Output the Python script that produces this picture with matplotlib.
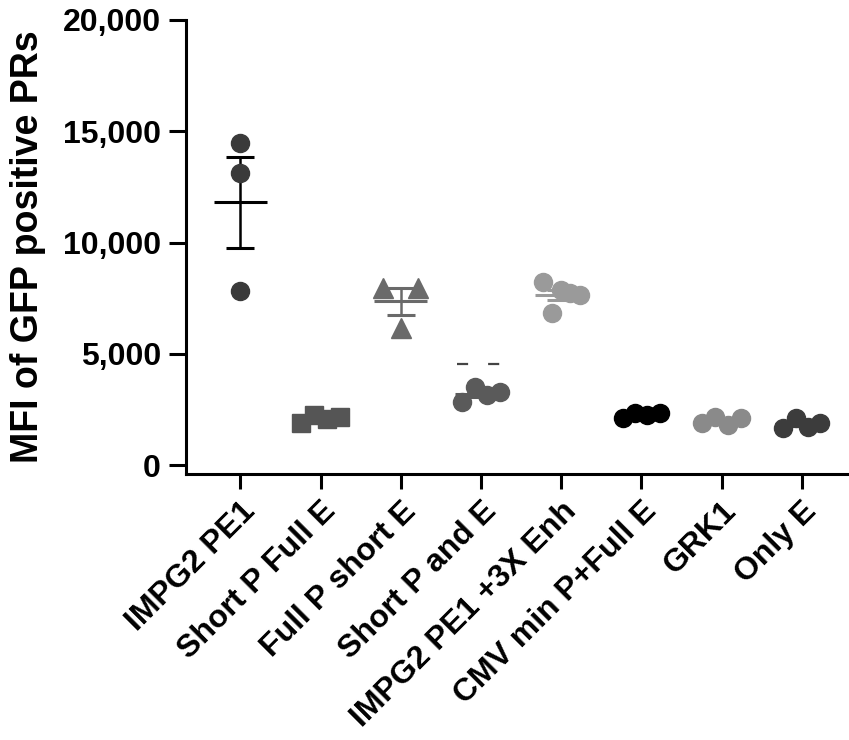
import numpy as np
import matplotlib
matplotlib.use('Agg')
import matplotlib.pyplot as plt

plt.rcParams['font.family'] = ['Liberation Sans', 'DejaVu Sans']
plt.rcParams['font.weight'] = 'bold'

groups = ['IMPG2 PE1', 'Short P Full E', 'Full P short E', 'Short P and E',
          'IMPG2 PE1 +3X Enh', 'CMV min P+Full E', 'GRK1', 'Only E']

# MFI values per group
impg2_pe1 = [14470, 13120, 7820]
short_p_full_e = [1900, 2250, 2050, 2150]
full_p_short_e = [7960, 6160, 7960]
short_p_and_e = [2830, 3510, 3150, 3280]
impg2_3x = [8220, 6830, 7870, 7730, 7640]
cmv_min = [2110, 2340, 2250, 2340]
grk1 = [1890, 2160, 1800, 2110]
only_e = [1660, 2110, 1710, 1890]
short_p_and_e_line = 4550  # faint dashed line above group 4

data = [impg2_pe1, short_p_full_e, full_p_short_e, short_p_and_e,
        impg2_3x, cmv_min, grk1, only_e]

markers = ['o', 's', '^', 'o', 'o', 'o', 'o', 'o']
colors = ['#3a3a3a', '#555555', '#6a6a6a', '#5a5a5a',
          '#9a9a9a', '#000000', '#8a8a8a', '#3c3c3c']
spread = [0, 0.24, 0.22, 0.24, 0.23, 0.23, 0.24, 0.23]

fig = plt.figure(figsize=(8.49, 7.4), dpi=100)
ax = fig.add_axes([0.219, 0.3595, 0.781, 0.6135])

for i, vals in enumerate(data):
    x = i + 1
    vals = np.array(vals, dtype=float)
    n = len(vals)
    if spread[i] > 0:
        xs = x + np.linspace(-spread[i], spread[i], n)
    else:
        xs = np.full(n, x)
    m = vals.mean()
    sem = vals.std(ddof=1) / np.sqrt(n)
    ec = 'black' if i == 0 else colors[i]
    ax.hlines(m, x - 0.33, x + 0.33, color=ec, lw=2.2, zorder=2)
    ax.errorbar(x, m, yerr=sem, fmt='none', ecolor=ec, elinewidth=1.8,
                capsize=10, capthick=2.2, zorder=2)
    ms = 13 if markers[i] != '^' else 14
    ax.plot(xs, vals, linestyle='none', marker=markers[i], ms=ms,
            color=colors[i], markeredgecolor=colors[i], zorder=3)

ax.hlines(short_p_and_e_line, 4 - 0.3, 4 + 0.3, color='#444444', lw=1.6,
          linestyles=(0, (5, 9)), zorder=2)

ax.set_xlim(0.32, 8.59)
ax.set_ylim(-400, 20000)
ax.set_yticks([0, 5000, 10000, 15000, 20000])
ax.set_yticklabels(['0', '5,000', '10,000', '15,000', '20,000'])
ax.set_xticks(range(1, 9))
ax.set_xticklabels(groups, rotation=45, ha='right', rotation_mode='anchor')

for side in ['top', 'right']:
    ax.spines[side].set_visible(False)
for side in ['left', 'bottom']:
    ax.spines[side].set_linewidth(2.2)

ax.tick_params(axis='y', length=12, width=2.2, pad=6, labelsize=23)
ax.tick_params(axis='x', length=11, width=2.2, pad=5, labelsize=23)
for lab in ax.get_xticklabels() + ax.get_yticklabels():
    lab.set_fontweight('bold')

ax.set_ylabel('MFI of GFP positive PRs', fontsize=27, fontweight='bold',
              labelpad=12)

fig.savefig('out.png', dpi=100)
